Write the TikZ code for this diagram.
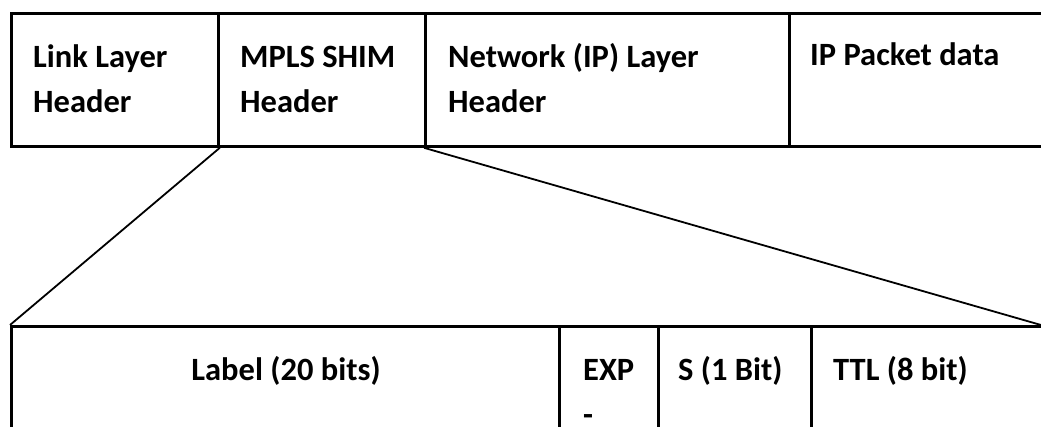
\documentclass[tikz,border=0pt]{standalone}
\usepackage{fontspec}
\setmainfont{Carlito}
\begin{document}
\begin{tikzpicture}[x=1pt,y=-1pt,
  cell/.style={draw=black, line width=2.8pt, inner sep=0pt, anchor=north west},
  txt/.style={anchor=base west, inner sep=0pt, font=\fontsize{32.5}{45}\selectfont\bfseries, align=left},
  txtc/.style={anchor=base, inner sep=0pt, font=\fontsize{32.5}{45}\selectfont\bfseries},
  conn/.style={draw=black, line width=1.8pt}]
\useasboundingbox (0,0) rectangle (1041,426);
\clip (0,0) rectangle (1041,426);
% top row
\node[cell, minimum width=207pt, minimum height=133pt] (ll) at (10,12) {};
\node[cell, minimum width=207pt, minimum height=133pt] (mp) at (217,12) {};
\node[cell, minimum width=364pt, minimum height=133pt] (net) at (424,12) {};
\node[cell, minimum width=280pt, minimum height=133pt] (ipd) at (788,12) {};
\node[txt] (tll) at (33,112) {Link Layer\\Header};
\node[txt] (tmp) at (240,112) {MPLS SHIM\\Header};
\node[txt] (tnet) at (448,112) {Network (IP) Layer\\Header};
\node[txt] (tipd) at (810,65) {IP Packet data};
% bottom row
\node[cell, minimum width=548pt, minimum height=130pt] (lab) at (10,325) {};
\node[cell, minimum width=99pt, minimum height=130pt] (exp) at (558,325) {};
\node[cell, minimum width=153pt, minimum height=130pt] (s) at (657,325) {};
\node[cell, minimum width=260pt, minimum height=130pt] (ttl) at (810,325) {};
\node[txtc] (tlab) at (286,380) {Label (20 bits)};
\node[txt] (texp) at (583,425) {EXP\\-};
\node[txt] (ts) at (678,380) {S (1 Bit)};
\node[txt] (tttl) at (833,380) {TTL (8 bit)};
% connectors
\coordinate (rend) at (1041,325);
\draw[conn] (ll.south east) -- (lab.north west);
\draw[conn] (net.south west) -- (rend);
\end{tikzpicture}
\end{document}
